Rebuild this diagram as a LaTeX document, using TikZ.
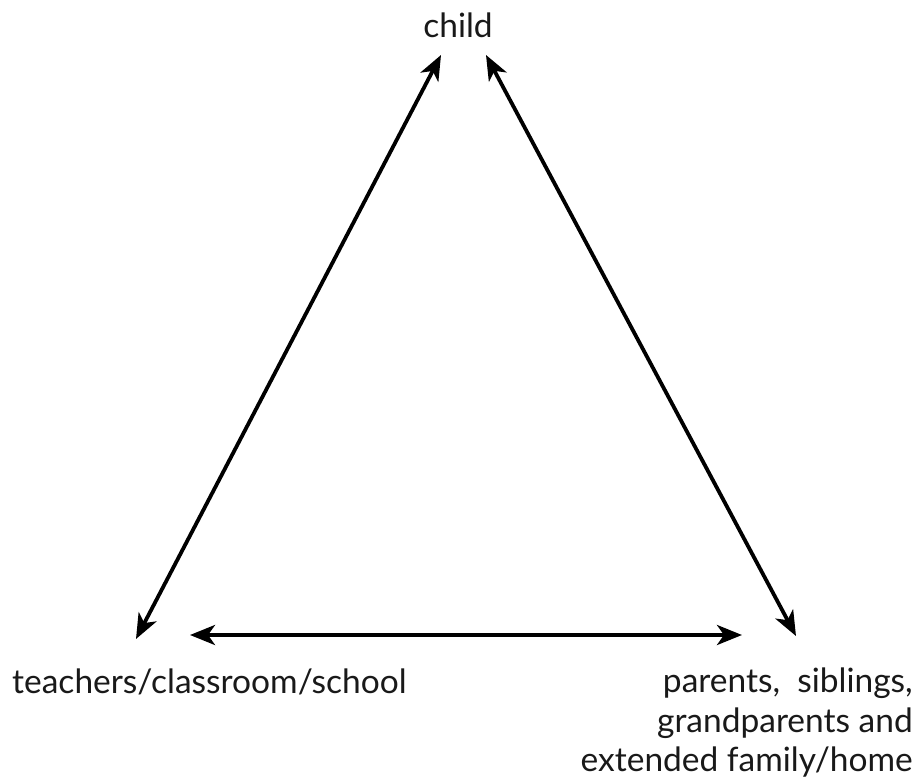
\documentclass[tikz,border=0pt]{standalone}
\usepackage{fontspec}
\setmainfont{Lato}
\usetikzlibrary{arrows.meta}
\begin{document}
\begin{tikzpicture}[x=1pt,y=-1pt,
  lbl/.style={font=\fontsize{33.5}{39.5}\selectfont, inner sep=0pt, text=black!90},
  link/.style={line width=3.8pt, {Stealth[length=25pt,width=20pt,inset=7pt]}-{Stealth[length=25pt,width=20pt,inset=7pt]}}]
\useasboundingbox (0,0) rectangle (919,782);
\node[lbl] (child) at (458,25) {child};
\node[lbl, anchor=west] (school) at (12,682) {teachers/classroom/school};
\node[lbl, anchor=north east, align=right] (home) at (913,668) {parents,~ siblings,\\grandparents and\\extended family/home};
\coordinate (cl) at (441,55);
\coordinate (cr) at (486,55);
\coordinate (sl) at (136,639);
\coordinate (sr) at (190,635);
\coordinate (hl) at (742,635);
\coordinate (hr) at (796,636);
\draw[link] (sl) -- (cl);
\draw[link] (cr) -- (hr);
\draw[link] (sr) -- (hl);
\end{tikzpicture}
\end{document}
